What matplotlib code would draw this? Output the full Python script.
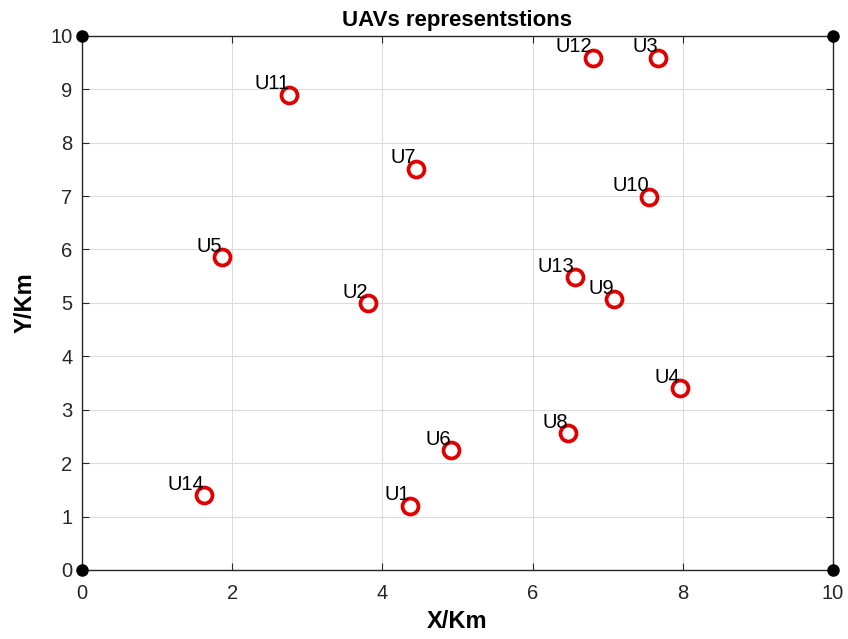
import matplotlib.pyplot as plt
import numpy as np

plt.rcParams['font.family'] = ['Liberation Sans', 'DejaVu Sans']

# Posiciones de los UAVs (km)
etiquetas = ['U1', 'U2', 'U3', 'U4', 'U5', 'U6', 'U7', 'U8', 'U9', 'U10',
             'U11', 'U12', 'U13', 'U14']
x_uav = [4.37, 3.81, 7.67, 7.96, 1.87, 4.91, 4.45, 6.47, 7.09, 7.55,
         2.76, 6.80, 6.56, 1.63]
y_uav = [1.20, 4.99, 9.59, 3.40, 5.85, 2.24, 7.51, 2.56, 5.07, 6.99,
         8.90, 9.59, 5.48, 1.40]

# Esquinas del área
x_esq = [0, 0, 10, 10]
y_esq = [0, 10, 0, 10]

fig = plt.figure(figsize=(8.48, 6.39), dpi=100)
ax = fig.add_axes([0.0967, 0.108, 0.8855, 0.836])

ax.plot(x_esq, y_esq, 'o', color='black', markersize=8, clip_on=False, zorder=5)
ax.plot(x_uav, y_uav, 'o', markerfacecolor='none', markeredgecolor='#e00000',
        markersize=11.5, markeredgewidth=2.7, linestyle='none', zorder=4)

for et, xi, yi in zip(etiquetas, x_uav, y_uav):
    ax.annotate(et, (xi, yi), xytext=(0, 8), textcoords='offset points',
                ha='right', va='center', fontsize=14.5, color='black', zorder=6)

ax.set_xlim(0, 10)
ax.set_ylim(0, 10)
ax.set_xticks(np.arange(0, 11, 2))
ax.set_yticks(np.arange(0, 11, 1))
ax.tick_params(direction='in', top=True, right=True, labelsize=14.5,
               labelcolor='#262626', length=5, color='#262626')
ax.tick_params(axis='x', pad=10)
ax.tick_params(axis='y', pad=7)
ax.grid(True, color='#dcdcdc', linewidth=0.8)
ax.set_axisbelow(True)
for s in ax.spines.values():
    s.set_color('#262626')
    s.set_linewidth(1.0)

ax.set_title('UAVs representstions', fontsize=16, fontweight='bold', pad=7)
ax.set_xlabel('X/Km', fontsize=17, fontweight='bold', labelpad=5)
ax.set_ylabel('Y/Km', fontsize=17, fontweight='bold', labelpad=10)

fig.savefig('out.png', dpi=100)
